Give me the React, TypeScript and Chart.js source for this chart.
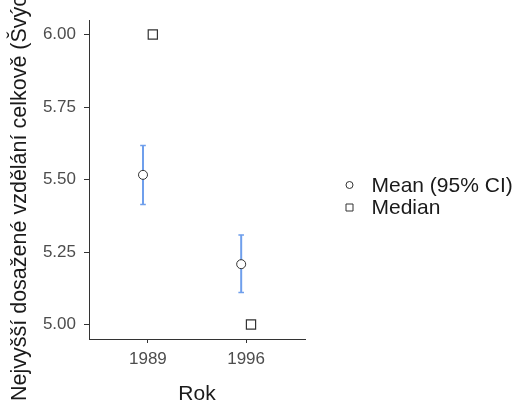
import React, { useEffect, useRef } from 'react';
import { Chart, registerables } from 'chart.js';

Chart.register(...registerables);

const categories = ['1989', '1996'];
const meanValues = [5.516, 5.208];
const ciLower = [5.414, 5.11];
const ciUpper = [5.617, 5.309];
const medianValues = [6.0, 5.0];
const yTickValues = [5.0, 5.25, 5.5, 5.75, 6.0];
const yTitle = 'Nejvyšší dosažené vzdělání celkově (Švýcarsko)';
const xTitle = 'Rok';
const legendLabels = ['Mean (95% CI)', 'Median'];

const FONT = "'Liberation Sans', Arial, sans-serif";
const DODGE = 0.05;
const ERR_COLOR = '#6F9FEC';
const MARK_BORDER = '#333333';

const errorBarPlugin = {
  id: 'errorBars',
  beforeDatasetsDraw(chart: any) {
    const { ctx, scales } = chart;
    const xs = scales.x;
    const ys = scales.y;
    ctx.save();
    ctx.strokeStyle = ERR_COLOR;
    categories.forEach((_, i) => {
      const x = xs.getPixelForValue(i + 1 - DODGE);
      const yLo = ys.getPixelForValue(ciLower[i]);
      const yHi = ys.getPixelForValue(ciUpper[i]);
      ctx.lineWidth = 2;
      ctx.beginPath();
      ctx.moveTo(x, yLo);
      ctx.lineTo(x, yHi);
      ctx.stroke();
      ctx.lineWidth = 1.5;
      ctx.beginPath();
      ctx.moveTo(x - 2.8, yLo);
      ctx.lineTo(x + 2.8, yLo);
      ctx.moveTo(x - 2.8, yHi);
      ctx.lineTo(x + 2.8, yHi);
      ctx.stroke();
    });
    ctx.restore();
  },
};

const titlesLegendPlugin = {
  id: 'titlesLegend',
  afterDraw(chart: any) {
    const { ctx, chartArea } = chart;
    ctx.save();
    // y axis title (long, clipped by canvas like reference)
    ctx.translate(26, chartArea.bottom + 62);
    ctx.rotate(-Math.PI / 2);
    ctx.font = `21.5px ${FONT}`;
    ctx.fillStyle = '#1A1A1A';
    ctx.textAlign = 'left';
    ctx.textBaseline = 'alphabetic';
    ctx.fillText(yTitle, 0, 0);
    ctx.restore();

    // legend
    ctx.save();
    const lx = chartArea.right + 44.5;
    const ly = (chartArea.top + chartArea.bottom) / 2 + 5.5;
    ctx.lineWidth = 1;
    ctx.strokeStyle = MARK_BORDER;
    ctx.fillStyle = '#FFFFFF';
    ctx.beginPath();
    ctx.arc(lx, ly, 3.5, 0, Math.PI * 2);
    ctx.fill();
    ctx.stroke();
    ctx.beginPath();
    ctx.rect(lx - 3.5, ly + 22.5 - 3.5, 7, 7);
    ctx.fill();
    ctx.stroke();
    ctx.font = `21px ${FONT}`;
    ctx.fillStyle = '#1A1A1A';
    ctx.textAlign = 'left';
    ctx.textBaseline = 'middle';
    ctx.fillText(legendLabels[0], lx + 22, ly + 1);
    ctx.fillText(legendLabels[1], lx + 22, ly + 23.5);
    ctx.restore();
  },
};

export default function App() {
  const ref = useRef<HTMLCanvasElement | null>(null);

  useEffect(() => {
    if (!ref.current) return;
    const chart = new Chart(ref.current, {
      type: 'scatter',
      data: {
        datasets: [
          {
            label: legendLabels[0],
            data: categories.map((_, i) => ({ x: i + 1 - DODGE, y: meanValues[i] })),
            pointStyle: 'circle',
            pointRadius: 4.5,
            pointBackgroundColor: '#FFFFFF',
            pointBorderColor: MARK_BORDER,
            pointBorderWidth: 1,
          },
          {
            label: legendLabels[1],
            data: categories.map((_, i) => ({ x: i + 1 + DODGE, y: medianValues[i] })),
            pointStyle: 'rect',
            pointRadius: 6.5,
            pointBackgroundColor: '#FFFFFF',
            pointBorderColor: MARK_BORDER,
            pointBorderWidth: 1.2,
          },
        ],
      },
      options: {
        animation: false,
        responsive: false,
        events: [],
        layout: { padding: { top: 20, right: 211, left: 0, bottom: 0 } },
        plugins: {
          legend: { display: false },
          tooltip: { enabled: false },
          title: { display: false },
        },
        scales: {
          x: {
            type: 'linear',
            min: 0.4,
            max: 2.6,
            afterBuildTicks: (scale: any) => {
              scale.ticks = categories.map((_, i) => ({ value: i + 1 }));
            },
            afterFit: (scale: any) => {
              scale.height = 66;
            },
            ticks: {
              font: { family: FONT, size: 17 },
              color: '#4D4D4D',
              padding: 6,
              callback: (v: any) => categories[Math.round(Number(v)) - 1] ?? '',
            },
            grid: { drawOnChartArea: false, drawTicks: true, tickLength: 4, color: MARK_BORDER },
            border: { display: true, color: MARK_BORDER, width: 1 },
            title: {
              display: true,
              text: xTitle,
              font: { family: FONT, size: 21 },
              color: '#1A1A1A',
              padding: { top: 0, bottom: -2 },
            },
          },
          y: {
            type: 'linear',
            min: 4.95,
            max: 6.05,
            afterBuildTicks: (scale: any) => {
              scale.ticks = yTickValues.map((v) => ({ value: v }));
            },
            afterFit: (scale: any) => {
              scale.width = 89;
            },
            ticks: {
              font: { family: FONT, size: 17 },
              color: '#4D4D4D',
              padding: 8,
              callback: (v: any) => Number(v).toFixed(2),
            },
            grid: { drawOnChartArea: false, drawTicks: true, tickLength: 5, color: MARK_BORDER },
            border: { display: true, color: MARK_BORDER, width: 1 },
            title: { display: false },
          },
        },
      },
      plugins: [errorBarPlugin, titlesLegendPlugin],
    });
    return () => chart.destroy();
  }, []);

  return (
    <div style={{ position: 'absolute', left: 0, top: 0, width: 516, height: 405, background: '#FFFFFF' }}>
      <canvas ref={ref} width={516} height={405} style={{ display: 'block' }} />
    </div>
  );
}
